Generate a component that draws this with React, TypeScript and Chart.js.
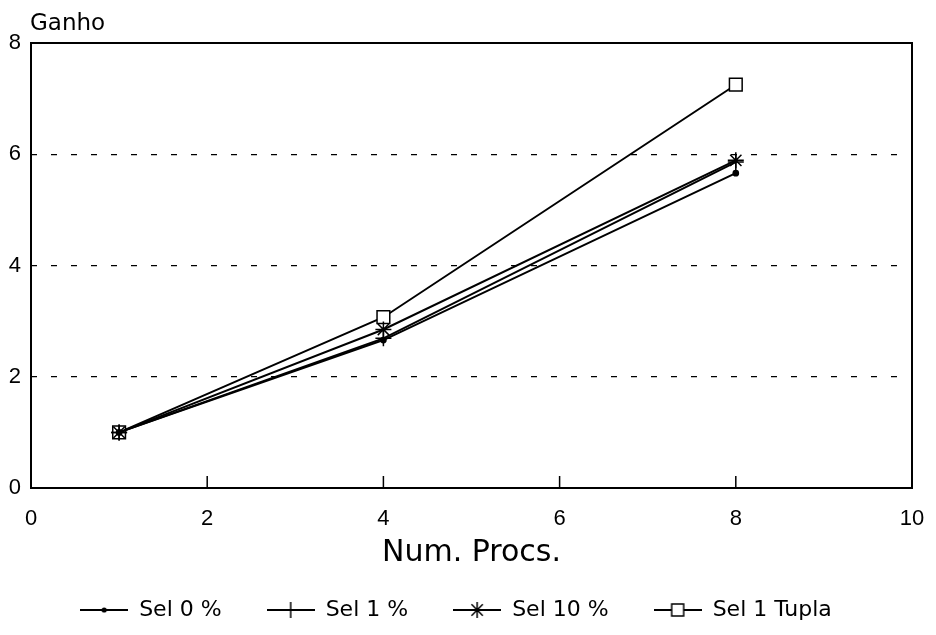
import React, { useEffect, useRef } from "react";
import { Chart, registerables } from "chart.js";

Chart.register(...registerables);

// ---- data ----
const procs = [1, 4, 8];
const sel0 = [1, 2.66, 5.66];
const sel1 = [1, 2.69, 5.86];
const sel10 = [1, 2.85, 5.89];
const selTupla = [1, 3.07, 7.25];
const seriesNames = ["Sel 0 %", "Sel 1 %", "Sel 10 %", "Sel 1 Tupla"];
const xTickValues = [0, 2, 4, 6, 8, 10];
const yTickValues = [0, 2, 4, 6, 8];
const yAxisTitle = "Ganho";
const xAxisTitle = "Num. Procs.";

type MarkerKind = "dot" | "plus" | "star" | "square";
const markerKinds: MarkerKind[] = ["dot", "plus", "star", "square"];

const TICK_FONT = "'Liberation Sans', Arial, sans-serif";
const TEXT_FONT = "'DejaVu Sans', 'Liberation Sans', sans-serif";

function drawMarker(ctx: CanvasRenderingContext2D, kind: MarkerKind, x: number, y: number) {
  ctx.save();
  ctx.strokeStyle = "#000";
  ctx.fillStyle = "#000";
  ctx.lineWidth = 1.5;
  if (kind === "dot") {
    ctx.beginPath();
    ctx.arc(x, y, 2.6, 0, Math.PI * 2);
    ctx.fill();
  } else if (kind === "plus" || kind === "star") {
    const r = 8;
    ctx.beginPath();
    ctx.moveTo(x - r, y);
    ctx.lineTo(x + r, y);
    ctx.moveTo(x, y - r);
    ctx.lineTo(x, y + r);
    if (kind === "star") {
      const d = r * Math.SQRT1_2;
      ctx.moveTo(x - d, y - d);
      ctx.lineTo(x + d, y + d);
      ctx.moveTo(x - d, y + d);
      ctx.lineTo(x + d, y - d);
    }
    ctx.stroke();
  } else {
    const h = 6;
    ctx.fillStyle = "#fff";
    ctx.fillRect(x - h, y - h, 2 * h, 2 * h);
    ctx.strokeRect(x - h, y - h, 2 * h, 2 * h);
  }
  ctx.restore();
}

function legendIcon(kind: MarkerKind): HTMLCanvasElement {
  const c = document.createElement("canvas");
  c.width = 48;
  c.height = 20;
  const ctx = c.getContext("2d")!;
  ctx.strokeStyle = "#000";
  ctx.lineWidth = 2;
  ctx.beginPath();
  ctx.moveTo(0, 10);
  ctx.lineTo(48, 10);
  ctx.stroke();
  drawMarker(ctx, kind, 24, 10);
  return c;
}

const framePlugin = {
  id: "frame",
  afterDatasetsDraw(chart: any) {
    const { ctx, chartArea, scales } = chart;
    ctx.save();
    ctx.strokeStyle = "#000";
    ctx.lineWidth = 2;
    ctx.strokeRect(chartArea.left, chartArea.top, chartArea.right - chartArea.left, chartArea.bottom - chartArea.top);
    // inward ticks on bottom axis
    ctx.lineWidth = 1.5;
    ctx.beginPath();
    xTickValues.forEach((v) => {
      if (v === xTickValues[0] || v === xTickValues[xTickValues.length - 1]) return;
      const px = scales.x.getPixelForValue(v);
      ctx.moveTo(px, chartArea.bottom);
      ctx.lineTo(px, chartArea.bottom - 12);
    });
    ctx.stroke();
    // y axis title above the plot
    ctx.fillStyle = "#000";
    ctx.font = `23px ${TEXT_FONT}`;
    ctx.textAlign = "left";
    ctx.textBaseline = "alphabetic";
    ctx.fillText(yAxisTitle, 30, 30);
    ctx.restore();
  },
};

export default function App() {
  const ref = useRef<HTMLCanvasElement | null>(null);

  useEffect(() => {
    if (!ref.current) return;
    const seriesValues = [sel0, sel1, sel10, selTupla];
    const pointStyles: any[] = ["circle", "cross", "star", "rect"];
    const pointRadii = [2.6, 8, 8, 9];
    const icons = markerKinds.map((k) => legendIcon(k));

    const chart = new Chart(ref.current, {
      type: "line",
      data: {
        datasets: seriesValues.map((vals, i) => ({
          label: seriesNames[i],
          data: vals.map((v, j) => ({ x: procs[j], y: v })),
          borderColor: "#000",
          borderWidth: 2,
          backgroundColor: "#000",
          pointStyle: pointStyles[i],
          pointRadius: pointRadii[i],
          pointBorderColor: "#000",
          pointBorderWidth: 1.5,
          pointBackgroundColor: i === 3 ? "#fff" : "#000",
          fill: false,
          tension: 0,
        })),
      },
      options: {
        animation: false,
        responsive: false,
        events: [],
        layout: { padding: { top: 43, right: 24, bottom: 4, left: 0 } },
        scales: {
          x: {
            type: "linear",
            min: 0,
            max: 10,
            afterBuildTicks: (s: any) => {
              s.ticks = xTickValues.map((v) => ({ value: v }));
            },
            afterFit: (s: any) => {
              s.height = 66;
              s.paddingLeft = 0;
              s.paddingRight = 0;
            },
            ticks: {
              color: "#000",
              font: { family: TICK_FONT, size: 22 },
              padding: 18,
              maxRotation: 0,
            },
            grid: { display: false, drawTicks: false },
            border: { display: false },
            title: {
              display: true,
              text: xAxisTitle,
              color: "#000",
              font: { family: TEXT_FONT, size: 30 },
              padding: { top: 0, bottom: -17 },
            },
          },
          y: {
            type: "linear",
            min: 0,
            max: 8,
            afterBuildTicks: (s: any) => {
              s.ticks = yTickValues.map((v) => ({ value: v }));
            },
            afterFit: (s: any) => {
              s.width = 31;
              s.paddingTop = 0;
              s.paddingBottom = 0;
            },
            ticks: {
              color: "#000",
              font: { family: TICK_FONT, size: 22 },
              padding: 10,
            },
            grid: { color: "#000", lineWidth: 1.3, drawTicks: false },
            border: { display: false, dash: [6, 14] },
          },
        },
        plugins: {
          title: { display: false },
          tooltip: { enabled: false },
          legend: {
            position: "bottom",
            labels: {
              usePointStyle: true,
              pointStyleWidth: 48,
              padding: 45,
              color: "#000",
              font: { family: TEXT_FONT, size: 22 },
              generateLabels: () =>
                seriesNames.map((name, i) => ({
                  text: name,
                  fillStyle: "#000",
                  strokeStyle: "#000",
                  lineWidth: 0,
                  hidden: false,
                  datasetIndex: i,
                  pointStyle: icons[i],
                  fontColor: "#000",
                })),
            },
          },
        },
      },
      plugins: [framePlugin],
    } as any);
    return () => chart.destroy();
  }, []);

  return (
    <div style={{ position: "absolute", left: 0, top: 0, width: 936, height: 635, background: "#fff" }}>
      <canvas ref={ref} width={936} height={635} style={{ display: "block" }} />
    </div>
  );
}
